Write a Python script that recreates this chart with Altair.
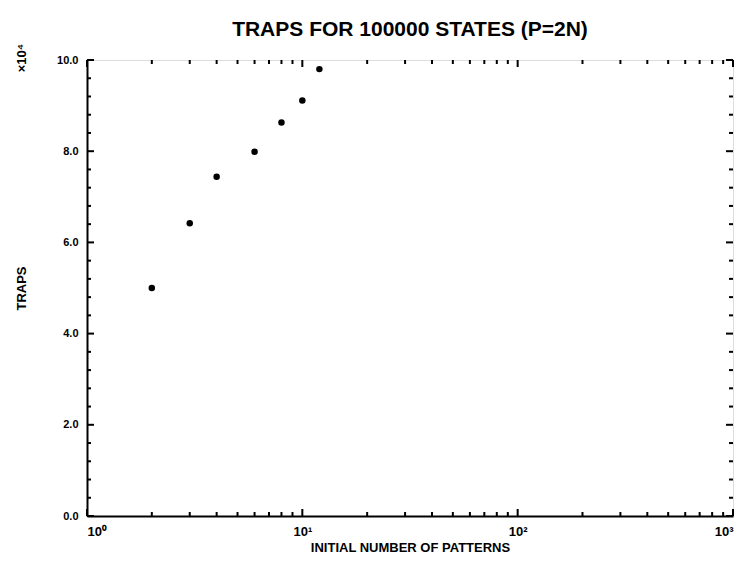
import altair as alt
import pandas as pd

# data
patterns = [2, 3, 4, 6, 8, 10, 12]
traps = [5.0, 6.42, 7.44, 7.99, 8.63, 9.11, 9.80]   # x10^4

x_major = [1, 10, 100, 1000]
x_minor = [m * d for d in [1, 10, 100] for m in range(2, 10)]
y_major = [0, 2, 4, 6, 8, 10]
y_minor = [round(i * 0.4, 1) for i in range(0, 26) if i % 5 != 0]

W, H = 646, 456
FONT = "Liberation Sans"

xs = alt.Scale(type="log", domain=[1, 1000], nice=False)
ys = alt.Scale(domain=[0, 10], nice=False, zero=False)

XAXIS = alt.Axis(
    values=x_major, ticks=False, grid=False,
    labelExpr="datum.value == 1 ? '10⁰' : datum.value == 10 ? '10¹' : datum.value == 100 ? '10²' : '10³'",
    labelFont=FONT, labelFontWeight="bold", labelFontSize=13, labelColor="black",
    labelPadding=9, labelFlush=True,
    title="INITIAL NUMBER OF PATTERNS", titleFont=FONT, titleFontWeight="bold",
    titleFontSize=13, titleColor="black", titlePadding=3,
    domainColor="black", domainWidth=2)
YAXIS = alt.Axis(
    values=y_major, ticks=False, grid=False, format=".1f",
    labelFont=FONT, labelFontWeight="bold", labelFontSize=11, labelColor="black",
    labelPadding=9,
    title="TRAPS", titleFont=FONT, titleFontWeight="bold",
    titleFontSize=13, titleColor="black", titlePadding=28,
    domainColor="black", domainWidth=2)

pts = pd.DataFrame({"x": patterns, "y": traps})

points = alt.Chart(pts).mark_circle(size=42, color="black", opacity=1).encode(
    x=alt.X("x:Q", scale=xs, axis=XAXIS),
    y=alt.Y("y:Q", scale=ys, axis=YAXIS),
)

def xticks(vals, size):
    d = pd.DataFrame({"x": vals})
    b = alt.Chart(d).mark_rule(color="black", strokeWidth=2).encode(
        x=alt.X("x:Q", scale=xs, axis=XAXIS), y=alt.value(H), y2=alt.value(H - size))
    t = alt.Chart(d).mark_rule(color="black", strokeWidth=2).encode(
        x=alt.X("x:Q", scale=xs, axis=XAXIS), y=alt.value(0), y2=alt.value(size))
    return [b, t]

def yticks(vals, size):
    d = pd.DataFrame({"y": vals})
    l = alt.Chart(d).mark_rule(color="black", strokeWidth=2).encode(
        y=alt.Y("y:Q", scale=ys, axis=YAXIS), x=alt.value(0), x2=alt.value(size))
    r = alt.Chart(d).mark_rule(color="black", strokeWidth=2).encode(
        y=alt.Y("y:Q", scale=ys, axis=YAXIS), x=alt.value(W), x2=alt.value(W - size))
    return [l, r]

expo = alt.Chart(pd.DataFrame({"t": ["×10⁴"]})).mark_text(
    font=FONT, fontWeight="bold", fontSize=13, color="black", angle=270
).encode(text="t:N", x=alt.value(-65), y=alt.value(-2))

layers = [points] + xticks(x_major, 7) + xticks(x_minor, 4) + yticks(y_major, 7) + yticks(y_minor, 4) + [expo]

chart = alt.layer(*layers).properties(
    width=W, height=H,
    title=alt.TitleParams("TRAPS FOR 100000 STATES (P=2N)", font=FONT, fontWeight="bold",
                          fontSize=21, color="black", offset=4),
    autosize=alt.AutoSizeParams(type="none"),
    padding={"left": 79, "top": 52, "right": 3, "bottom": 43},
).configure_view(stroke="black", strokeWidth=2).configure(background="white")

chart.save("out.html", embed_options={"renderer": "svg", "actions": False})
